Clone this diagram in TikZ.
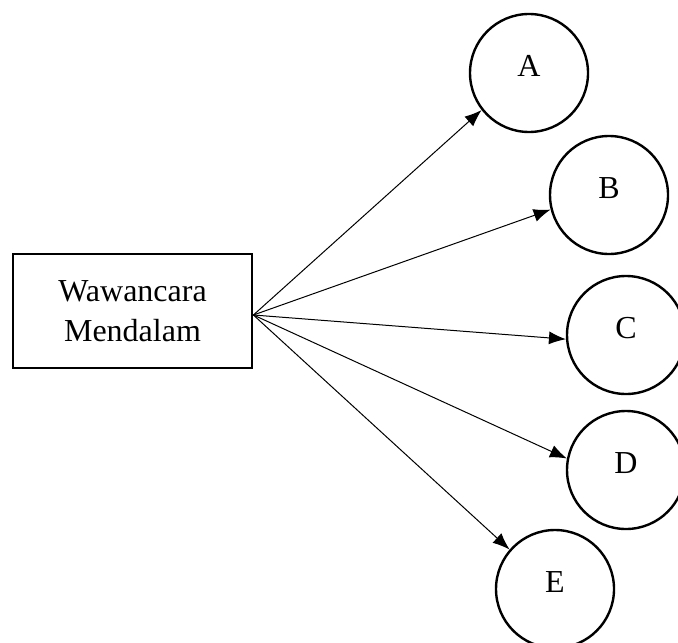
\documentclass[tikz,border=0pt]{standalone}
\usepackage{fontspec}
\setmainfont{Liberation Serif}
\usetikzlibrary{arrows.meta, positioning}

\tikzset{
    person/.style={draw, circle, minimum size=59pt, line width=1.2pt, text height=11pt, text depth=8pt},
    link/.style={-{Latex[length=8.5pt, width=6.5pt]}, line width=0.5pt}
}

\begin{document}
\begin{tikzpicture}[x=0.5pt, y=-0.5pt, font=\fontsize{16}{20}\selectfont]
    \useasboundingbox (0,0) rectangle (678,642);

    % Box for the interview method
    \node[draw, rectangle, minimum width=119.5pt, minimum height=57pt, line width=1.4pt, align=center] (interview) at (132.5,311) {Wawancara\\Mendalam};
    \coordinate (hub) at ([yshift=-2pt]interview.east);

    % Informants
    \node[person] (A) at (529,73) {A};
    \node[person] (B) at (609,195) {B};
    \node[person] (C) at (626,335) {C};
    \node[person] (D) at (626,470) {D};
    \node[person] (E) at (555,589) {E};

    % Arrows from the box to every informant
    \draw[link] (hub) -- (A.218);
    \draw[link] (hub) -- (B.194);
    \draw[link] (hub) -- (C.184);
    \draw[link] (hub) -- (D.169);
    \draw[link] (hub) -- (E.139);
\end{tikzpicture}
\end{document}
